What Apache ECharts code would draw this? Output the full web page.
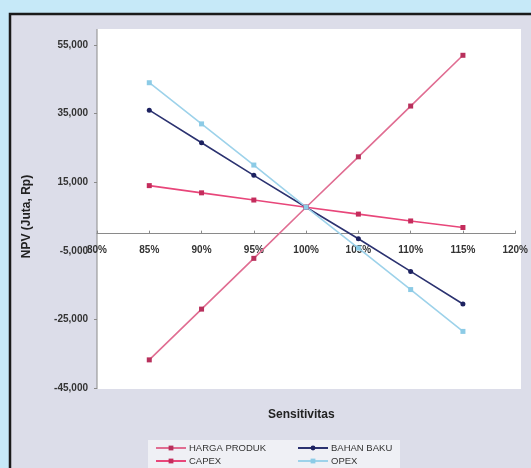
<!DOCTYPE html>
<html>
<head>
<meta charset="utf-8">
<script src="https://cdn.jsdelivr.net/npm/echarts@6/dist/echarts.min.js"></script>
<style>
  html, body { margin: 0; padding: 0; background: #c6e9f8; }
  #chart { width: 531px; height: 468px; }
</style>
</head>
<body>
<div id="chart"></div>
<script>
// Sensitivity levels (% of base case)
const sensitivities = [85, 90, 95, 100, 105, 110, 115];

// NPV (Juta Rp) per sensitivity level
const hargaProduk = [-36800, -22000, -7200, 7700, 22400, 37200, 52000];
const bahanBaku   = [36000, 26500, 17000, 7700, -1500, -11000, -20500];
const capex       = [14000, 11900, 9800, 7700, 5700, 3700, 1800];
const opex        = [44000, 32000, 20000, 7700, -4200, -16300, -28500];

const seriesNames = ['HARGA PRODUK', 'BAHAN BAKU', 'CAPEX', 'OPEX'];

const yMin = -45000, yMax = 55000;
const gridTop = 45, gridBottom = 80, chartH = 468;

const pairs = vals => sensitivities.map((s, i) => [s, vals[i]]);

const chart = echarts.init(document.getElementById('chart'), null, { renderer: 'canvas' });

const font = 'Liberation Sans, Arial, sans-serif';

// the category axis crosses the value axis at NPV = 0
const plotH = chartH - gridTop - gridBottom;
const zeroY = gridTop + plotH * yMax / (yMax - yMin);
const xAxisOffset = zeroY - (chartH - gridBottom);

function lineSeries(name, vals, lineColor, markColor, symbol) {
  return {
    name: name,
    type: 'line',
    data: pairs(vals),
    symbol: symbol,
    symbolSize: 5,
    showSymbol: true,
    lineStyle: { color: lineColor, width: 1.6 },
    itemStyle: { color: markColor, borderWidth: 0 },
    z: 3
  };
}

function legendItem(name, left, top) {
  return {
    data: [name],
    left: left, top: top, padding: 0,
    itemWidth: 30, itemHeight: 6, itemGap: 0,
    textStyle: { fontSize: 9.5, color: '#333', padding: [0, 0, 0, -2], fontFamily: font }
  };
}

chart.setOption({
  animation: false,
  backgroundColor: '#c6e9f8',
  textStyle: { fontFamily: font },
  graphic: [
    // chart frame and area
    { type: 'rect', shape: { x: 10, y: 14, width: 530, height: 470 },
      style: { fill: '#dcdde9', stroke: '#1a1a1a', lineWidth: 2.5 }, z: -10, silent: true },
    // plot area
    { type: 'rect', shape: { x: 97, y: 29, width: 424, height: 360 },
      style: { fill: '#ffffff' }, z: -9, silent: true },
    { type: 'line', shape: { x1: 97, y1: 29, x2: 97, y2: 389 },
      style: { stroke: '#8a8a8a', lineWidth: 1 }, z: -8, silent: true },
    // x axis title
    { type: 'text', left: 268, top: 409,
      style: { text: 'Sensitivitas', font: 'bold 12px ' + font, fill: '#222' }, z: 5 },
    // legend box
    { type: 'rect', shape: { x: 148, y: 440, width: 252, height: 30 },
      style: { fill: 'rgba(255,255,255,0.55)' }, z: -7, silent: true }
  ],
  grid: { left: 97, right: 10, top: gridTop, bottom: gridBottom, containLabel: false },
  xAxis: {
    type: 'value',
    min: 80, max: 120, interval: 5,
    offset: xAxisOffset,
    axisLine: { onZero: false, lineStyle: { color: '#8a8a8a', width: 1 } },
    axisTick: { show: true, inside: true, length: 3, lineStyle: { color: '#8a8a8a' } },
    axisLabel: { formatter: '{value}%', color: '#333', fontSize: 10, fontWeight: 'bold', margin: 12 },
    splitLine: { show: false }
  },
  yAxis: {
    type: 'value',
    min: yMin, max: yMax, interval: 20000,
    name: 'NPV (Juta, Rp)',
    nameLocation: 'middle',
    nameRotate: 90,
    nameGap: 64,
    nameTextStyle: { fontSize: 12, fontWeight: 'bold', color: '#222' },
    axisLine: { show: false },
    axisTick: { show: true, length: 3, lineStyle: { color: '#8a8a8a' } },
    axisLabel: {
      color: '#333', fontSize: 10, fontWeight: 'bold', margin: 9,
      formatter: v => v.toLocaleString('en-US')
    },
    splitLine: { show: false }
  },
  legend: [
    legendItem('HARGA PRODUK', 155, 443),
    legendItem('CAPEX', 155, 456),
    legendItem('BAHAN BAKU', 297, 443),
    legendItem('OPEX', 297, 456)
  ],
  series: [
    lineSeries(seriesNames[0], hargaProduk, '#e06d92', '#b8305c', 'rect'),
    lineSeries(seriesNames[1], bahanBaku, '#2b3270', '#1d2260', 'circle'),
    lineSeries(seriesNames[2], capex, '#e8467a', '#c42c5c', 'rect'),
    lineSeries(seriesNames[3], opex, '#9dd2ea', '#8ccbe6', 'rect')
  ]
});
</script>
</body>
</html>
